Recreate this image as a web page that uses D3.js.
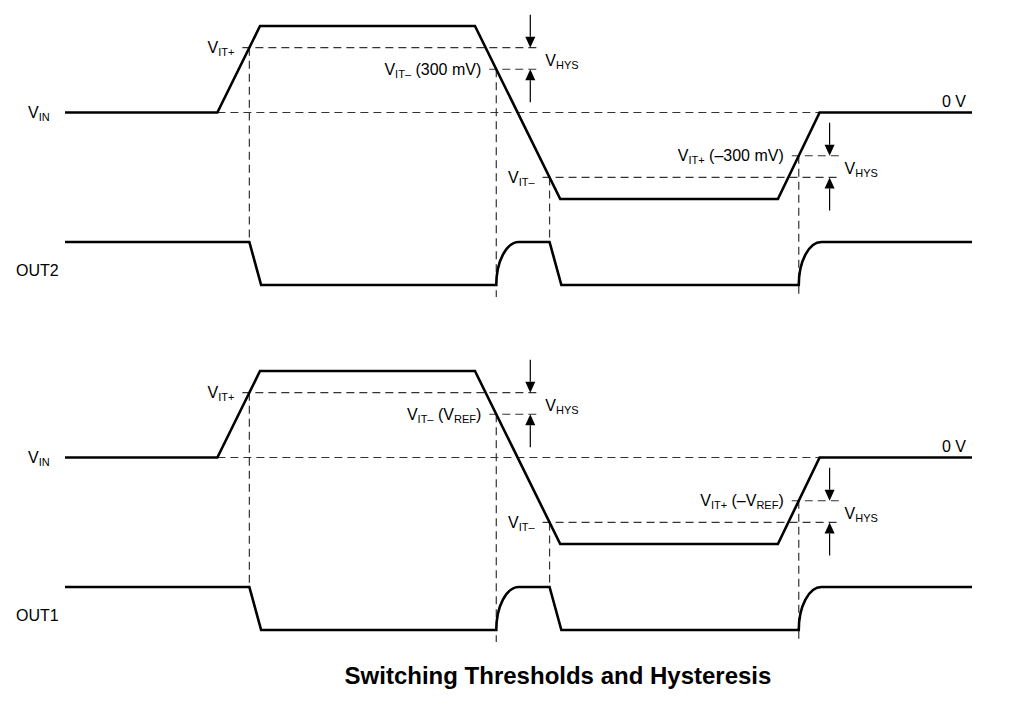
<!DOCTYPE html>
<html>
<head>
<meta charset="utf-8">
<script src="https://cdn.jsdelivr.net/npm/d3@7"></script>
<style>
  body { margin: 0; background: #fff; }
  text { font-family: "Liberation Sans", Arial, sans-serif; fill: #000; }
</style>
</head>
<body>
<div id="chart"></div>
<script>
// input waveform (time in arbitrary units, level in mV)
var vinTime = [0, 16.8, 21.5, 45.2, 54.6, 78.6, 83.2, 100];
var vinMv = [0, 0, 600, 600, -600, -600, 0, 0];

// comparator switching points: threshold, direction VIN passes it, output edge
var switchLevel = [450, 300, -450, -300];
var switchDir = ["up", "down", "down", "up"];
var switchEdge = ["fall", "rise", "fall", "rise"];

// hysteresis markers: [upper threshold, lower threshold] and where the arrows sit
var hysPairs = [[450, 300], [-300, -450]];
var hysTime = [51.3, 84.3];

var panelNames = ["OUT2", "OUT1"];
var panelOffset = [0, 345];

// label parts: [text, subscript?] in the same order as switchLevel
var thresholdLabels = [
  [
    [["V", 0], ["IT+", 1]],
    [["V", 0], ["IT\u2013", 1], [" (300 mV)", 0]],
    [["V", 0], ["IT\u2013", 1]],
    [["V", 0], ["IT+", 1], [" (\u2013300 mV)", 0]]
  ],
  [
    [["V", 0], ["IT+", 1]],
    [["V", 0], ["IT\u2013", 1], [" (V", 0], ["REF", 1], [")", 0]],
    [["V", 0], ["IT\u2013", 1]],
    [["V", 0], ["IT+", 1], [" (\u2013V", 0], ["REF", 1], [")", 0]]
  ]
];

var fallTime = 1.3;
var riseTime = 2.5;

var width = 1032;
var height = 722;

var svg = d3.select("#chart")
  .append("svg")
  .attr("width", width)
  .attr("height", height);

var x = d3.scaleLinear().domain([0, 100]).range([65, 972]);
var y = d3.scaleLinear().domain([-600, 600]).range([199, 26]);
var yOut = d3.scaleLinear().domain([0, 1]).range([285, 242]);

var vin = vinTime.map(function(t, i) { return { t: t, v: vinMv[i] }; });

// time where VIN passes a level in a given direction
function crossing(level, dir) {
  for (var i = 0; i < vin.length - 1; i++) {
    var a = vin[i], b = vin[i + 1];
    var goingUp = b.v > a.v;
    if (a.v === b.v) continue;
    if ((dir === "up") !== goingUp) continue;
    var lo = Math.min(a.v, b.v), hi = Math.max(a.v, b.v);
    if (level >= lo && level <= hi) {
      return a.t + (level - a.v) / (b.v - a.v) * (b.t - a.t);
    }
  }
  return null;
}

var events = switchLevel.map(function(level, i) {
  return { level: level, t: crossing(level, switchDir[i]), edge: switchEdge[i], idx: i };
});
var sortedEvents = events.slice().sort(function(a, b) { return a.t - b.t; });

function addLabel(g, px, py, parts, anchor) {
  var txt = g.append("text")
    .attr("x", px)
    .attr("y", py + 5.5)
    .attr("text-anchor", anchor)
    .style("font-size", "16px");
  var cur = 0;
  parts.forEach(function(p) {
    var shift = p[1] ? 3 : 0;
    txt.append("tspan")
      .attr("dy", shift - cur)
      .style("font-size", p[1] ? "11px" : "16px")
      .text(p[0]);
    cur = shift;
  });
  return txt;
}

function outputPath() {
  var p = d3.path();
  var h = yOut(0) - yOut(1);
  var w = x(riseTime) - x(0);
  p.moveTo(x(0), yOut(1));
  sortedEvents.forEach(function(e) {
    var x0 = x(e.t);
    if (e.edge === "fall") {
      p.lineTo(x0, yOut(1));
      p.lineTo(x(e.t + fallTime), yOut(0));
    } else {
      p.lineTo(x0, yOut(0));
      p.bezierCurveTo(x0, yOut(0) - 0.552 * h, x0 + w - 0.552 * w, yOut(1), x0 + w, yOut(1));
    }
  });
  p.lineTo(x(100), yOut(1));
  return p.toString();
}

function dashed(g, x1, y1, x2, y2) {
  g.append("line")
    .attr("x1", x1).attr("y1", y1)
    .attr("x2", x2).attr("y2", y2)
    .attr("stroke", "#333")
    .attr("stroke-width", 1.2)
    .attr("stroke-dasharray", "8,5");
}

function arrow(g, px, tipY, dir) {
  // dir = 1 : pointing down, dir = -1 : pointing up
  var len = 33, head = 11, half = 5;
  g.append("line")
    .attr("x1", px).attr("y1", tipY - dir * len)
    .attr("x2", px).attr("y2", tipY - dir * head)
    .attr("stroke", "#000")
    .attr("stroke-width", 1.2);
  g.append("path")
    .attr("d", "M" + px + "," + tipY +
      "L" + (px - half) + "," + (tipY - dir * head) +
      "L" + (px + half) + "," + (tipY - dir * head) + "Z")
    .attr("fill", "#000");
}

panelNames.forEach(function(name, pi) {
  var g = svg.append("g").attr("transform", "translate(0," + panelOffset[pi] + ")");

  // 0 V reference
  dashed(g, x(vinTime[1]), y(0), x(vinTime[6]), y(0));

  // threshold levels
  events.forEach(function(e) {
    var hx = x(hysTime[e.level > 0 ? 0 : 1]);
    dashed(g, x(e.t) - 7, y(e.level), hx + 11, y(e.level));
    var yEnd = e.edge === "fall" ? yOut(1) : yOut(0) + 12;
    dashed(g, x(e.t), y(e.level), x(e.t), yEnd);
    addLabel(g, x(e.t) - 15, y(e.level), thresholdLabels[pi][e.idx], "end");
  });

  // hysteresis arrows
  hysPairs.forEach(function(pair, hi) {
    var hx = x(hysTime[hi]);
    arrow(g, hx, y(pair[0]), 1);
    arrow(g, hx, y(pair[1]), -1);
    addLabel(g, hx + 15, (y(pair[0]) + y(pair[1])) / 2 + 2, [["V", 0], ["HYS", 1]], "start");
  });

  // waveforms
  var line = d3.line()
    .x(function(d) { return x(d.t); })
    .y(function(d) { return y(d.v); });

  g.append("path")
    .datum(vin)
    .attr("d", line)
    .attr("fill", "none")
    .attr("stroke", "#000")
    .attr("stroke-width", 2.6)
    .attr("stroke-linejoin", "miter");

  g.append("path")
    .attr("d", outputPath())
    .attr("fill", "none")
    .attr("stroke", "#000")
    .attr("stroke-width", 2.6);

  addLabel(g, 28, y(0), [["V", 0], ["IN", 1]], "start");
  addLabel(g, 966, y(0) - 11, [["0 V", 0]], "end");
  addLabel(g, 16, (yOut(0) + yOut(1)) / 2 + 7, [[name, 0]], "start");
});

svg.append("text")
  .attr("x", 558)
  .attr("y", 684)
  .attr("text-anchor", "middle")
  .style("font-size", "24px")
  .style("font-weight", "bold")
  .text("Switching Thresholds and Hysteresis");
</script>
</body>
</html>
